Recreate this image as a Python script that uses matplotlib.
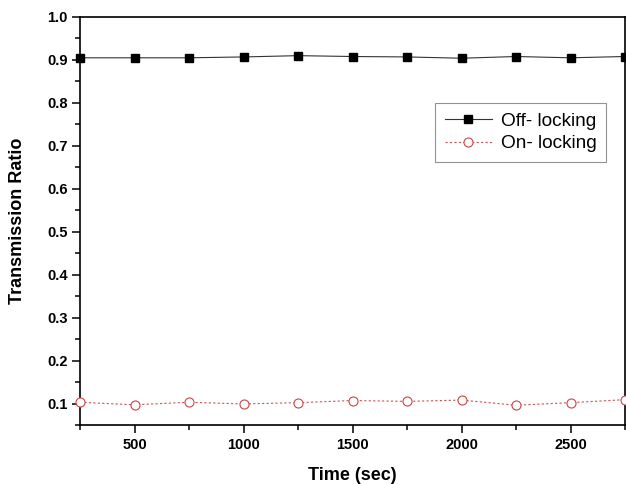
import matplotlib
matplotlib.use('Agg')
import matplotlib.pyplot as plt
from matplotlib.ticker import MultipleLocator, FormatStrFormatter

# data
time_sec = [250, 500, 750, 1000, 1250, 1500, 1750, 2000, 2250, 2500, 2750]
off_locking = [0.905, 0.905, 0.905, 0.907, 0.910, 0.908, 0.907, 0.904, 0.908, 0.905, 0.908]
on_locking = [0.103, 0.097, 0.103, 0.099, 0.102, 0.107, 0.105, 0.108, 0.096, 0.102, 0.109]

plt.rcParams['font.family'] = ['Liberation Sans', 'DejaVu Sans']

fig = plt.figure(figsize=(6.26, 4.84), dpi=100)
ax = fig.add_axes([80 / 626, 1 - 425 / 484, 545 / 626, 408 / 484])

ax.plot(time_sec, off_locking, color='#333333', lw=0.8, marker='s', ms=5.5,
        mfc='black', mec='black', label='Off- locking', clip_on=False, zorder=3)
ax.plot(time_sec, on_locking, color='#cc5555', lw=0.8, ls=(0, (2, 2)), marker='o', ms=6.5,
        mfc='white', mec='#cc4444', mew=0.8, label='On- locking', clip_on=False, zorder=3)

ax.set_xlim(250, 2750)
ax.set_ylim(0.05, 1.0)
ax.xaxis.set_major_locator(MultipleLocator(500))
ax.xaxis.set_minor_locator(MultipleLocator(250))
ax.yaxis.set_major_locator(MultipleLocator(0.1))
ax.yaxis.set_minor_locator(MultipleLocator(0.05))
ax.yaxis.set_major_formatter(FormatStrFormatter('%.1f'))

ax.tick_params(which='both', direction='out', top=False, right=False, width=1.1)
ax.tick_params(which='major', length=6, labelsize=10.5)
ax.tick_params(axis='x', which='major', pad=3.4)
ax.tick_params(axis='y', which='major', pad=3)
ax.tick_params(which='minor', length=3.5)
for lab in ax.get_xticklabels() + ax.get_yticklabels():
    lab.set_fontweight('bold')
for sp in ax.spines.values():
    sp.set_linewidth(1.2)

ax.set_xlabel('Time (sec)', fontsize=13, fontweight='bold', labelpad=11)
ax.set_ylabel('Transmission Ratio', fontsize=13, fontweight='bold', labelpad=15)

leg = ax.legend(loc='upper left', bbox_to_anchor=(355 / 545, 322 / 408), borderaxespad=0,
                fontsize=13.7, frameon=True, fancybox=False, handlelength=2.5,
                handletextpad=0.45, labelspacing=0.28, borderpad=0.5)
leg.get_frame().set_edgecolor('#777777')
leg.get_frame().set_linewidth(0.8)

fig.savefig('out.png', dpi=100)
